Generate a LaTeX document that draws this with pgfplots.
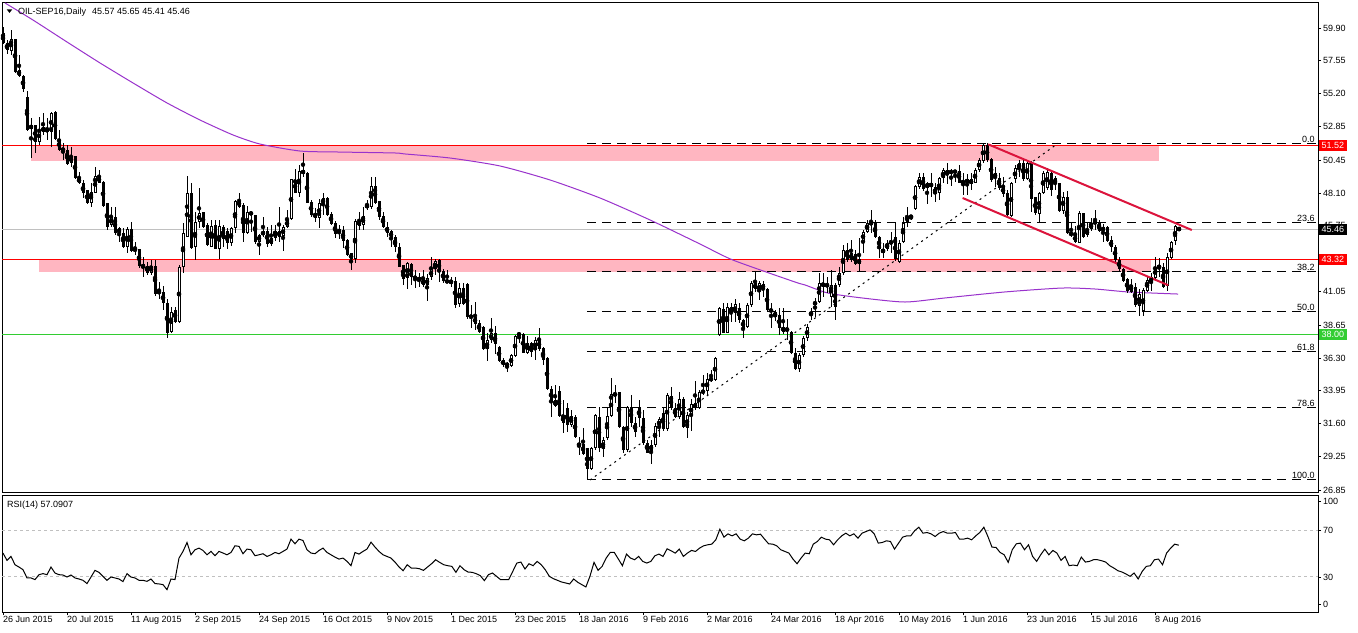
\documentclass[border=0pt]{standalone}
\usepackage{pgfplots}
\pgfplotsset{compat=1.18}
\usepackage{pgfplotstable}
\usepackage{fontspec}
\setmainfont{Liberation Sans}
\definecolor{pinkzone}{RGB}{255,182,193}
\definecolor{maline}{RGB}{153,50,204}
\definecolor{chan}{RGB}{220,20,60}
\definecolor{lvlred}{RGB}{255,0,0}
\definecolor{lvlgreen}{RGB}{50,205,50}
\definecolor{cur}{RGB}{192,192,192}

\pgfplotstableread{
i o h l c
0 59.55 59.95 58.75 58.80
1 58.85 59.04 58.02 58.33
2 58.28 59.76 57.97 59.09
3 59.09 59.09 56.66 56.78
4 56.90 57.97 56.42 56.47
5 56.47 56.54 55.35 55.51
6 54.94 55.39 52.55 52.60
7 52.70 53.44 50.58 52.94
8 52.94 52.94 50.93 51.77
9 51.77 53.56 51.53 52.60
10 52.49 53.80 52.24 52.80
11 52.68 53.44 51.89 52.49
12 52.49 53.92 51.41 53.80
13 53.92 53.99 51.89 51.94
14 51.96 52.60 51.12 51.17
15 51.29 51.65 50.46 51.12
16 51.17 51.53 50.10 50.17
17 50.27 51.41 49.98 50.70
18 50.74 50.74 49.07 49.15
19 49.22 49.62 48.74 48.79
20 48.79 49.03 47.72 48.07
21 48.31 48.31 47.31 47.36
22 47.40 48.79 47.12 48.19
23 48.12 49.98 48.07 49.31
24 49.27 49.74 48.79 48.84
25 48.91 48.98 47.12 47.17
26 47.36 47.40 45.45 45.64
27 45.81 47.12 45.69 46.36
28 46.41 47.07 45.09 45.21
29 45.57 45.69 44.62 45.21
30 45.21 45.57 44.14 44.26
31 44.26 45.69 43.83 45.50
32 45.50 46.05 43.90 43.97
33 44.11 44.62 43.66 43.97
34 44.07 44.07 42.71 42.88
35 43.02 43.54 42.11 42.71
36 42.88 43.19 42.23 42.40
37 42.40 43.31 42.23 42.88
38 42.88 43.31 40.73 40.87
39 41.04 41.75 40.49 40.97
40 41.04 41.44 39.73 40.20
41 40.25 40.49 37.70 38.06
42 38.18 39.97 38.11 39.61
43 39.75 39.97 38.80 38.90
44 38.90 42.95 38.82 42.83
45 42.83 45.93 42.35 45.21
46 44.97 49.31 44.93 48.12
47 48.12 48.84 44.07 44.14
48 44.26 46.76 43.31 46.05
49 46.05 48.43 45.57 46.64
50 46.76 46.76 45.57 45.64
51 45.81 45.93 44.30 44.38
52 44.26 46.17 44.21 45.74
53 45.81 46.17 44.07 44.12
54 44.12 46.17 43.35 45.74
55 45.69 45.81 44.26 44.78
56 45.40 45.57 44.07 44.50
57 44.54 45.64 44.30 45.57
58 45.57 47.60 45.26 47.55
59 47.55 48.07 47.00 47.12
60 47.24 47.40 44.62 45.21
61 45.26 47.17 45.16 46.76
62 46.76 46.76 45.33 46.52
63 46.52 46.52 44.45 44.62
64 44.62 45.16 43.66 45.09
65 45.07 46.40 44.93 45.38
66 45.38 45.69 44.21 44.45
67 44.45 45.81 44.30 44.85
68 44.85 45.81 44.69 45.38
69 45.38 47.07 44.62 44.97
70 45.02 45.81 43.97 45.64
71 45.64 46.88 45.57 46.21
72 46.21 49.07 46.17 49.07
73 49.03 49.79 48.07 48.12
74 48.07 50.10 47.84 49.67
75 49.74 50.98 49.27 49.46
76 49.50 49.62 47.36 47.40
77 47.48 47.60 46.40 46.52
78 46.69 47.00 46.05 46.28
79 46.28 47.64 45.57 47.40
80 47.31 48.07 46.52 47.72
81 47.72 47.84 46.45 46.52
82 46.59 46.76 45.81 45.88
83 45.98 46.12 44.85 45.16
84 45.26 45.81 44.78 45.50
85 45.45 45.74 44.14 44.69
86 44.74 44.78 43.59 43.66
87 43.78 43.83 42.59 43.35
88 43.35 46.21 43.07 46.12
89 46.12 46.76 45.45 45.74
90 45.81 47.12 45.45 46.45
91 47.00 47.60 46.88 47.31
92 47.12 49.27 46.93 48.60
93 48.60 49.27 47.31 47.40
94 47.55 47.55 46.17 46.40
95 46.45 46.76 45.57 45.69
96 45.69 46.05 44.93 45.26
97 45.40 45.45 44.26 44.85
98 44.97 45.09 43.90 44.21
99 44.26 44.50 42.78 42.83
100 42.95 42.95 41.52 41.95
101 41.99 43.19 41.21 43.11
102 43.02 43.07 41.52 42.11
103 42.16 42.59 41.28 41.92
104 42.06 42.40 41.35 41.83
105 41.92 42.59 41.40 41.52
106 41.52 42.30 40.40 41.99
107 42.06 43.54 41.87 42.64
108 42.64 43.35 42.23 43.26
109 43.31 43.35 41.75 42.47
110 42.54 42.64 41.64 41.83
111 41.87 42.59 41.64 41.68
112 41.83 42.11 41.40 41.64
113 41.83 42.06 39.85 40.09
114 40.16 41.64 39.97 41.28
115 41.28 41.64 40.09 40.16
116 41.59 41.64 39.06 39.20
117 39.30 40.09 38.42 39.20
118 39.25 40.32 38.30 38.73
119 38.77 39.01 38.11 38.18
120 38.54 38.58 36.87 36.91
121 36.91 38.06 36.10 37.58
122 37.58 39.13 37.39 38.06
123 38.06 38.58 36.58 37.30
124 37.11 37.15 36.03 36.10
125 36.15 36.27 35.67 35.79
126 35.91 36.03 35.32 35.72
127 35.72 36.58 35.67 36.51
128 36.44 37.94 36.34 37.87
129 37.87 38.18 37.39 38.11
130 38.01 38.06 36.63 36.68
131 36.68 37.87 36.58 37.39
132 37.34 37.46 36.39 36.75
133 36.87 37.82 36.15 37.58
134 37.63 38.42 36.82 36.91
135 36.99 37.11 35.79 36.15
136 36.27 36.34 34.00 34.05
137 34.05 34.29 32.10 33.24
138 33.29 34.36 32.77 32.86
139 33.96 34.29 32.10 32.15
140 32.22 33.29 30.95 31.62
141 32.69 33.05 31.02 31.50
142 31.50 32.57 31.38 32.15
143 32.10 32.22 30.55 30.62
144 30.24 30.67 29.36 29.95
145 30.14 31.26 29.36 29.43
146 29.83 29.83 27.57 28.33
147 28.33 29.90 28.30 29.83
148 29.83 32.30 29.71 32.22
149 32.10 32.81 29.60 29.83
150 29.76 30.67 29.24 30.43
151 30.55 32.69 30.43 32.15
152 32.15 34.84 32.10 33.72
153 33.72 34.36 33.05 33.65
154 33.86 33.88 31.26 31.34
155 31.38 31.43 29.48 29.71
156 29.71 32.86 29.60 32.81
157 32.77 33.65 31.38 31.67
158 31.62 32.10 30.67 31.03
159 32.81 33.29 31.38 31.98
160 31.98 32.57 30.07 30.19
161 30.24 30.43 29.48 29.52
162 29.67 30.43 28.71 30.07
163 30.07 31.62 29.95 31.43
164 31.38 32.05 30.67 31.91
165 32.34 32.69 31.10 31.19
166 31.19 33.77 31.10 33.65
167 33.58 34.24 32.57 32.69
168 32.69 33.05 31.98 32.10
169 32.05 33.88 31.91 33.34
170 33.34 33.48 31.26 31.34
171 31.26 32.46 30.55 32.22
172 32.15 33.34 31.10 33.00
173 33.05 34.67 32.57 32.69
174 32.69 34.00 32.62 33.88
175 33.81 35.08 33.65 33.96
176 33.96 35.20 33.58 34.77
177 34.72 35.43 34.60 34.84
178 34.72 36.34 34.67 36.27
179 37.94 39.97 37.87 39.85
180 39.78 40.25 38.06 38.11
181 38.11 40.25 38.06 39.92
182 39.92 40.20 38.89 39.54
183 39.49 40.49 38.89 40.16
184 39.85 40.20 38.77 39.01
185 39.01 39.06 37.70 38.42
186 38.54 40.20 38.42 40.09
187 40.09 41.83 39.97 41.68
188 41.64 42.47 41.04 41.21
189 41.04 41.83 40.44 41.64
190 41.59 41.83 40.68 41.21
191 41.21 41.28 39.61 39.73
192 39.78 40.20 38.42 39.61
193 39.61 39.73 38.97 39.20
194 39.37 39.85 37.94 38.42
195 38.54 39.85 38.01 38.18
196 38.25 39.06 37.58 38.42
197 38.18 38.25 36.58 36.63
198 36.63 36.99 35.43 35.49
199 35.49 36.68 35.32 36.51
200 36.51 37.87 36.39 37.70
201 37.70 38.75 37.50 38.50
202 39.40 39.85 39.01 39.55
203 40.09 40.56 39.25 40.33
204 40.33 42.35 40.20 41.64
205 41.68 42.40 40.68 41.40
206 41.59 42.11 40.92 41.40
207 40.64 42.59 39.97 41.52
208 41.52 41.68 39.01 39.97
209 41.52 42.83 41.40 42.40
210 42.35 44.38 42.23 44.02
211 44.02 44.50 43.19 43.31
212 43.78 44.74 43.19 43.31
213 43.73 44.02 42.95 43.02
214 43.02 44.86 42.47 43.35
215 44.62 45.45 43.78 45.33
216 45.33 46.17 45.21 45.93
217 45.88 46.88 45.21 45.98
218 45.93 46.17 44.86 44.93
219 44.97 45.02 43.42 44.07
220 43.83 44.50 43.42 44.07
221 44.50 44.74 43.97 44.07
222 44.50 45.33 43.83 44.62
223 44.97 46.05 43.26 43.35
224 43.19 44.74 43.07 44.55
225 44.62 46.40 44.50 45.98
226 46.05 47.07 45.69 46.45
227 46.45 46.52 46.17 46.36
228 46.93 48.67 46.88 48.60
229 48.55 49.50 48.36 49.22
230 49.22 49.55 48.26 48.36
231 48.43 48.91 47.31 48.79
232 48.50 49.50 47.84 48.84
233 48.50 48.79 47.48 48.02
234 48.07 49.27 47.60 49.15
235 49.15 49.86 48.79 49.74
236 49.74 50.22 48.74 49.39
237 49.55 49.79 48.60 49.65
238 49.55 49.74 48.91 49.70
239 49.70 50.10 48.79 48.84
240 48.98 49.50 47.96 48.79
241 48.84 49.46 47.96 49.07
242 49.07 49.50 48.31 48.74
243 48.84 49.86 48.79 49.74
244 49.74 50.58 49.62 50.46
245 50.41 51.67 50.27 51.53
246 51.53 51.67 50.34 50.46
247 50.50 50.58 48.91 49.03
248 49.55 49.93 48.55 49.15
249 49.15 49.50 48.31 48.43
250 48.55 49.27 47.84 48.02
251 48.07 48.31 46.40 46.52
252 46.45 48.91 46.36 48.79
253 49.08 50.10 48.79 49.86
254 49.79 50.46 49.27 50.27
255 50.27 50.46 48.98 49.08
256 49.08 50.41 49.03 50.22
257 50.34 50.41 46.76 47.65
258 47.79 47.84 46.52 46.64
259 46.59 48.19 45.93 48.12
260 48.07 49.70 48.02 49.50
261 48.43 49.86 48.31 49.62
262 49.55 49.70 47.88 48.31
263 49.15 49.31 48.31 48.74
264 48.79 48.84 46.76 46.84
265 46.84 48.19 46.60 47.84
266 47.84 48.26 45.16 45.21
267 45.26 45.93 44.98 45.09
268 45.09 45.74 44.55 44.62
269 44.55 46.84 44.50 46.64
270 46.64 46.69 44.86 44.98
271 45.09 45.93 44.98 45.50
272 45.50 46.28 45.40 45.93
273 45.93 46.88 45.45 46.05
274 45.93 46.17 45.33 45.40
275 45.40 45.88 44.62 45.64
276 45.64 45.74 44.62 44.69
277 44.74 45.02 43.90 44.21
278 44.26 44.38 43.19 43.31
279 43.31 43.50 42.54 42.64
280 42.64 42.71 41.75 41.83
281 41.92 41.99 40.97 41.11
282 41.52 41.92 40.92 41.04
283 41.40 41.64 39.97 40.09
284 40.05 41.20 39.30 40.90
285 39.65 41.28 39.30 41.15
286 41.11 42.16 41.04 41.87
287 41.68 42.35 41.11 42.06
288 42.00 43.50 41.92 42.83
289 42.88 43.42 42.11 42.76
290 42.78 43.07 41.28 41.40
291 41.44 43.78 41.11 43.49
292 43.42 44.69 43.35 44.62
293 44.69 45.81 44.38 45.74
294 45.57 45.65 45.41 45.46
}\ohlc

\pgfplotsset{
  candle/.style={only marks, mark=none,
    error bars/.cd, y dir=both, y explicit, error mark=none},
}
\tikzset{
  fibline/.style={black, line width=1bp, dash pattern=on 9bp off 6bp},
  fiblbl/.style={anchor=south east, inner sep=1bp, font=\fontsize{9bp}{10bp}\selectfont},
  pbox/.style={text=white, anchor=west, inner xsep=2.5bp, inner ysep=1bp, minimum height=11bp, xshift=1bp, font=\fontsize{9bp}{10bp}\selectfont},
}

\begin{document}
\begin{tikzpicture}[font=\fontsize{9bp}{10bp}\selectfont]
\fill[white] (0,0) rectangle (1358bp,-633bp);
\useasboundingbox (0,0) rectangle (1358bp,-633bp);

\begin{axis}[
  at={(2bp,-2bp)}, anchor=north west, scale only axis,
  width=1316bp, height=490bp,
  xmin=-0.25, xmax=328.75, ymin=26.71, ymax=61.76,
  clip=false,
  axis line style={line width=1bp, black},
  xtick=\empty,
  ytick={26.85,29.25,31.60,33.95,36.30,38.65,41.05,43.40,45.75,48.10,50.45,52.85,55.20,57.55,59.90},
  yticklabels={26.85,29.25,31.60,33.95,36.30,38.65,41.05,43.40,45.75,48.10,50.45,52.85,55.20,57.55,59.90},
  ytick pos=right, yticklabel pos=right,
  tick align=outside, major tick length=3bp,
  tick style={line width=0.8bp, black},
  yticklabel style={font=\fontsize{9bp}{10bp}\selectfont, inner sep=1bp, xshift=1bp},
]
% support / resistance zones
\fill[pinkzone] (axis cs:7,50.41) rectangle (axis cs:289,51.52);
\fill[pinkzone] (axis cs:9,42.45) rectangle (axis cs:287,43.32);
% fibonacci levels
\draw[fibline] (axis cs:146,51.65) -- (axis cs:328.3,51.65);
\draw[fibline] (axis cs:146,45.97) -- (axis cs:328.3,45.97);
\draw[fibline] (axis cs:146,42.45) -- (axis cs:328.3,42.45);
\draw[fibline] (axis cs:146,39.61) -- (axis cs:328.3,39.61);
\draw[fibline] (axis cs:146,36.77) -- (axis cs:328.3,36.77);
\draw[fibline] (axis cs:146,32.72) -- (axis cs:328.3,32.72);
\draw[fibline] (axis cs:146,27.57) -- (axis cs:328.3,27.57);
% horizontal levels
\draw[cur, line width=1bp] (axis cs:-0.25,45.46) -- (axis cs:328.75,45.46);
\draw[lvlred, line width=1bp] (axis cs:-0.25,51.52) -- (axis cs:328.75,51.52);
\draw[lvlred, line width=1bp] (axis cs:-0.25,43.32) -- (axis cs:328.75,43.32);
\draw[lvlgreen, line width=1bp] (axis cs:-0.25,38.00) -- (axis cs:328.75,38.00);
% moving average
\addplot[maline, line width=1bp, smooth, tension=0.4] coordinates {
(0.5,61.69) (7.5,60.47) (16,58.90) (24.25,57.40) (32.5,55.97) (41,54.54)
(49.25,53.32) (57.5,52.25) (64.25,51.60) (74.25,51.10) (83.75,51.03) (98,50.96)
(100.5,50.89) (111.75,50.60) (124.25,50.03) (136.75,49.03) (149.25,47.74)
(161.75,46.17) (174.25,44.45) (182.5,43.30) (198,41.73) (200.5,41.52)
(206.25,40.94) (214.75,40.59) (225.5,40.30) (235.5,40.59) (250.5,41.02)
(264.75,41.30) (273,41.23) (281.25,41.02) (293.75,40.87)};
% fib trend line
\draw[black, line width=1bp, dash pattern=on 2bp off 4bp] (axis cs:146.75,27.57) -- (axis cs:263.75,51.65);
% candles: wicks
\addplot[candle, error bar style={line width=1bp, black}]
  table[x=i, y expr={(\thisrow{h}+\thisrow{l})/2}, y error expr={(\thisrow{h}-\thisrow{l})/2}] {\ohlc};
% candles: bodies
\addplot[candle, error bar style={line width=3bp, black}]
  table[x=i, y expr={(\thisrow{o}+\thisrow{c})/2}, y error expr={max(abs(\thisrow{c}-\thisrow{o})/2,0.036)}] {\ohlc};
% candles: hollow interior for rising days
\addplot[candle, error bar style={line width=1bp, white}]
  table[x=i, y expr={(\thisrow{o}+\thisrow{c})/2}, y error expr={(\thisrow{c}>\thisrow{o})*max((\thisrow{c}-\thisrow{o})/2-0.0715,0)}] {\ohlc};
% channel
\draw[chan, line width=2bp] (axis cs:246.3,51.58) -- (axis cs:297.2,45.45);
\draw[chan, line width=2bp] (axis cs:239.9,47.74) -- (axis cs:291.3,41.50);
% fib labels
\node[fiblbl] at (axis cs:328.2,51.65) {0.0};
\node[fiblbl] at (axis cs:328.2,45.97) {23.6};
\node[fiblbl] at (axis cs:328.2,42.45) {38.2};
\node[fiblbl] at (axis cs:328.2,39.61) {50.0};
\node[fiblbl] at (axis cs:328.2,36.77) {61.8};
\node[fiblbl] at (axis cs:328.2,32.72) {78.6};
\node[fiblbl] at (axis cs:328.2,27.57) {100.0};
% price boxes
\node[pbox, fill=lvlred] at (axis cs:328.75,51.52) {51.52};
\node[pbox, fill=black] at (axis cs:328.75,45.46) {45.46};
\node[pbox, fill=lvlred] at (axis cs:328.75,43.32) {43.32};
\node[pbox, fill=lvlgreen] at (axis cs:328.75,38.00) {38.00};
\end{axis}

\begin{axis}[
  at={(2bp,-495bp)}, anchor=north west, scale only axis,
  width=1316bp, height=117bp,
  xmin=-0.25, xmax=328.75, ymin=0, ymax=100,
  axis line style={line width=1bp, black},
  xtick={0,16,...,288},
  xticklabels={26 Jun 2015,20 Jul 2015,11 Aug 2015,2 Sep 2015,24 Sep 2015,16 Oct 2015,9 Nov 2015,1 Dec 2015,23 Dec 2015,18 Jan 2016,9 Feb 2016,2 Mar 2016,24 Mar 2016,18 Apr 2016,10 May 2016,1 Jun 2016,23 Jun 2016,15 Jul 2016,8 Aug 2016},
  xtick pos=bottom,
  xticklabel style={font=\fontsize{9bp}{10bp}\selectfont, anchor=north west, inner sep=1bp, xshift=-1bp},
  ytick={6.4,30,70,94.9}, yticklabels={0,30,70,100},
  ytick pos=right, yticklabel pos=right,
  tick align=outside, major tick length=3bp,
  tick style={line width=0.8bp, black},
  yticklabel style={font=\fontsize{9bp}{10bp}\selectfont, inner sep=1bp, xshift=1bp},
]
\draw[cur, line width=1bp, dash pattern=on 3bp off 3bp] (axis cs:-0.25,70) -- (axis cs:328.75,70);
\draw[cur, line width=1bp, dash pattern=on 3bp off 3bp] (axis cs:-0.25,30) -- (axis cs:328.75,30);
\addplot[black, line width=1bp] coordinates {
(0,50.4) (1,44.1) (2,47.5) (3,40.4) (4,38.4) (5,36.2) (6,29.1) (7,29.1) (8,27.7) (9,31.9)
(10,32.8) (11,31.9) (12,38.4) (13,33.3) (14,31.9) (15,31.6) (16,29.9) (17,31.6) (18,29.1) (19,28.2)
(20,27.1) (21,24.3) (22,29.9) (23,35.6) (24,33.9) (25,30.5) (26,27.1) (27,29.9) (28,29.1) (29,28.2)
(30,26.0) (31,32.8) (32,29.9) (33,29.1) (34,27.1) (35,27.1) (36,26.2) (37,28.2) (38,24.3) (39,24.0)
(40,23.4) (41,19.1) (42,28.2) (43,27.7) (44,46.1) (45,51.8) (46,59.4) (47,48.9) (48,53.2) (49,54.6)
(50,52.6) (51,48.9) (52,51.8) (53,48.1) (54,51.8) (55,50.4) (56,48.9) (57,50.9) (58,56.6) (59,56.1)
(60,49.8) (61,53.8) (62,53.2) (63,48.1) (64,48.9) (65,49.8) (66,47.5) (67,48.9) (68,50.9) (69,49.8)
(70,51.8) (71,53.8) (72,62.3) (73,58.3) (74,62.3) (75,61.1) (76,53.2) (77,50.4) (78,49.8) (79,52.6)
(80,54.6) (81,50.9) (82,48.9) (83,46.9) (84,45.2) (85,46.1) (86,43.3) (87,39.6) (88,50.9) (89,49.5)
(90,51.8) (91,53.8) (92,59.7) (93,55.5) (94,51.8) (95,48.9) (96,47.5) (97,46.1)
(98.00,42.69) (99.02,38.43) (100.03,35.31) (101.05,40.42) (102.06,37.58) (103.08,37.58)
(104.09,37.01) (105.11,35.60) (106.12,38.43) (107.14,41.27) (108.15,44.68) (109.17,42.41)
(110.18,40.42) (111.20,39.57) (112.21,39.00) (113.23,33.90) (114.24,39.57) (115.26,36.16)
(116.27,34.18) (117.29,33.90) (118.30,32.76) (119.32,31.06) (120.34,26.80) (121.35,31.91)
(122.37,33.33) (123.38,30.49) (124.40,27.65) (125.41,27.65) (126.43,27.65) (127.44,34.75)
(128.46,41.84) (129.47,42.69) (130.49,36.73) (131.50,41.27) (132.52,39.57) (133.53,43.26)
(134.55,40.42) (135.56,36.16) (136.58,30.49) (137.59,28.50) (138.61,27.09) (139.62,25.67)
(140.64,24.82) (141.66,23.97) (142.67,28.22) (143.69,25.38) (144.70,23.40) (145.72,21.41)
(146.73,30.49) (147.75,42.41) (148.76,35.60) (149.78,39.00) (150.79,46.09) (151.81,50.92)
(152.82,50.92) (153.84,45.24) (154.85,39.57) (155.87,49.50) (156.88,46.09) (157.90,44.68)
(158.91,47.51) (159.93,43.26) (160.94,41.84) (161.96,43.26) (162.97,48.08) (163.99,49.50)
(165.01,47.51) (166.02,54.04) (167.04,52.33) (168.05,50.35) (169.07,53.75) (170.08,47.51)
(171.10,50.35) (172.11,52.62) (173.13,51.77) (174.14,54.60) (175.16,56.59) (176.17,57.44)
(177.19,58.01) (178.20,61.70) (179.22,70.78) (180.23,63.97) (181.25,66.80) (182.26,65.10)
(183.28,66.80) (184.29,62.27) (185.31,60.85) (186.33,63.12) (187.34,66.80) (188.36,65.95)
(189.37,66.52) (190.39,62.27) (191.40,58.29) (192.42,58.01) (193.43,56.59) (194.45,53.19)
(195.46,51.77) (196.48,50.35) (197.49,45.24) (198.51,41.27) (199.52,46.09) (200.54,50.35)
(201.55,49.78) (202.57,58.01) (203.58,60.28) (204.60,63.97) (205.61,62.27) (206.63,61.70)
(207.64,57.44) (208.66,61.70) (209.68,65.10) (210.69,67.37) (211.71,65.10) (212.72,66.80)
(213.74,63.12) (214.75,67.37) (215.77,68.79) (216.78,70.21) (217.80,66.80) (218.81,58.86)
(219.83,59.43) (220.84,60.85) (221.86,60.28) (222.87,53.75) (223.89,58.86) (224.90,63.97)
(225.92,65.10) (226.93,65.10) (227.95,69.64) (228.96,72.48) (229.98,67.37) (231.00,67.94)
(232.01,66.80) (233.03,64.53) (234.04,67.37) (235.06,68.79) (236.07,67.37) (237.09,67.37)
(238.10,67.94) (239.12,62.27) (240.13,62.27) (241.15,63.12) (242.16,61.70) (243.18,65.10)
(244.19,67.94) (245.21,72.48) (246.22,64.53) (247.24,55.46) (248.25,55.17) (249.27,50.92)
(250.28,48.93) (251.30,42.41) (252.31,53.19) (253.33,58.29) (254.35,58.86) (255.36,53.19)
(256.38,57.44) (257.39,47.51) (258.41,43.26) (259.42,48.93) (260.44,53.75) (261.45,48.93)
(262.47,52.62) (263.48,50.35) (264.50,44.11) (265.51,47.51) (266.53,39.57) (267.54,40.14)
(268.56,39.57) (269.57,46.94) (270.59,42.69) (271.60,43.26) (272.62,44.68) (273.63,44.68)
(274.65,43.82) (275.67,42.69) (276.68,39.57) (277.70,37.58) (278.71,35.31) (279.73,34.18)
(280.74,32.47) (281.76,30.49) (282.77,33.33) (283.79,28.22) (284.80,34.75) (285.82,39.00)
(286.83,39.57) (287.85,44.68) (288.86,45.24) (289.88,40.42) (290.89,50.35) (291.91,54.60)
(292.92,58.01) (293.94,57.09)};
\end{axis}

% title
\fill[black] (6.7bp,-9.3bp) -- (12.3bp,-9.3bp) -- (9.5bp,-12.9bp) -- cycle;
\node[anchor=base west, inner sep=0pt] at (18bp,-14.5bp) {OIL-SEP16,Daily\hspace{6bp}45.57 45.65 45.41 45.46};
\node[anchor=base west, inner sep=0pt] at (7bp,-507.5bp) {RSI(14) 57.0907};
\end{tikzpicture}
\end{document}
